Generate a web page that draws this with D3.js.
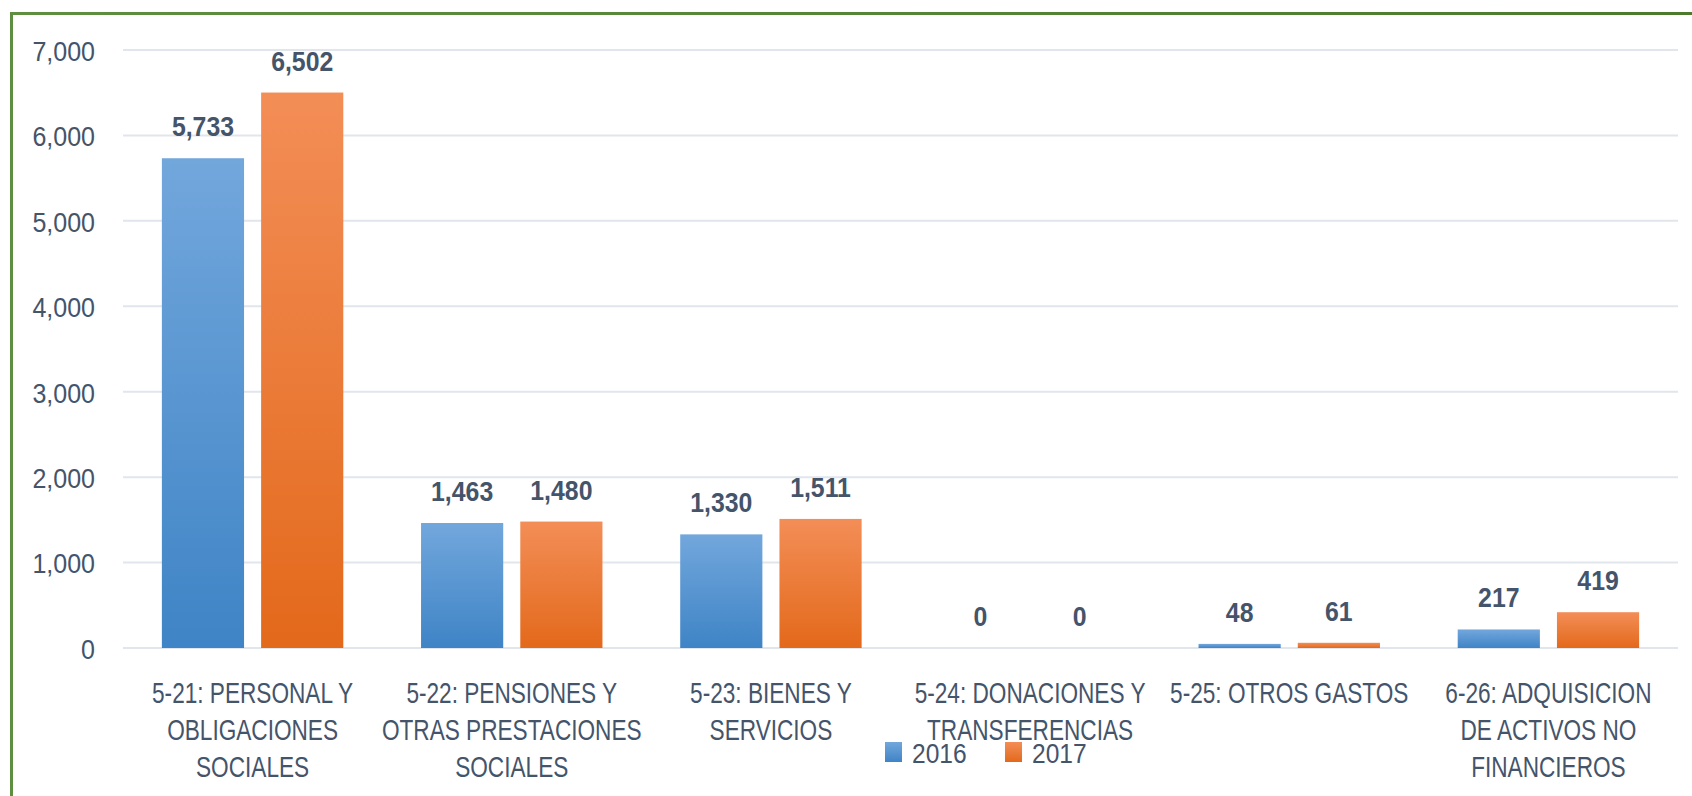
<!DOCTYPE html>
<html>
<head>
<meta charset="utf-8">
<script src="https://cdn.jsdelivr.net/npm/d3@7"></script>
<style>
  html, body { margin: 0; padding: 0; background: #ffffff; }
  svg { display: block; }
  text { font-family: "Liberation Sans", Arial, sans-serif; fill: #44546A; }
</style>
</head>
<body>
<svg id="chart" width="1692" height="796"></svg>
<script>
const categories = [
  "5-21: PERSONAL Y\nOBLIGACIONES\nSOCIALES",
  "5-22: PENSIONES Y\nOTRAS PRESTACIONES\nSOCIALES",
  "5-23: BIENES Y\nSERVICIOS",
  "5-24: DONACIONES Y\nTRANSFERENCIAS",
  "5-25: OTROS GASTOS",
  "6-26: ADQUISICION\nDE ACTIVOS NO\nFINANCIEROS"
];
const seriesNames = ["2016", "2017"];
const values2016 = [5733, 1463, 1330, 0, 48, 217];
const values2017 = [6502, 1480, 1511, 0, 61, 419];
const yTicks = [0, 1000, 2000, 3000, 4000, 5000, 6000, 7000];

const seriesValues = [values2016, values2017];
const svg = d3.select("#chart");
const plot = { left: 123, right: 1678, top: 50, bottom: 648 };

const defs = svg.append("defs");
const gradColors = [["#72A7DC", "#3F84C6"], ["#F38E57", "#E3691B"]];
gradColors.forEach((c, i) => {
  const g = defs.append("linearGradient").attr("id", "grad" + i)
    .attr("x1", 0).attr("y1", 0).attr("x2", 0).attr("y2", 1);
  g.append("stop").attr("offset", "0%").attr("stop-color", c[0]);
  g.append("stop").attr("offset", "100%").attr("stop-color", c[1]);
});
const borderGrad = defs.append("linearGradient").attr("id", "borderGrad")
  .attr("x1", 0).attr("y1", 0).attr("x2", 1).attr("y2", 0);
borderGrad.append("stop").attr("offset", "0%").attr("stop-color", "#5E8F40");
borderGrad.append("stop").attr("offset", "100%").attr("stop-color", "#4B7A2C");

// chart border (extends beyond the viewport on the right and bottom)
svg.append("rect").attr("x", 11.5).attr("y", 13.5).attr("width", 1720).attr("height", 820)
  .attr("fill", "none").attr("stroke", "url(#borderGrad)").attr("stroke-width", 3);

const x0 = d3.scaleBand().domain(d3.range(categories.length))
  .range([plot.left, plot.right]).paddingInner(0.30).paddingOuter(0.15);
const x1 = d3.scaleBand().domain(d3.range(seriesNames.length))
  .range([0, x0.bandwidth()]).paddingInner(0.172);
const y = d3.scaleLinear().domain([0, 7000]).range([plot.bottom, plot.top]);

function place(sel, x, yy, sx) {
  sel.attr("transform", `translate(${x},${yy}) scale(${sx},1)`);
  return sel;
}

// gridlines
svg.append("g").selectAll("line").data(yTicks).join("line")
  .attr("x1", plot.left).attr("x2", plot.right)
  .attr("y1", d => y(d)).attr("y2", d => y(d))
  .attr("stroke", "#E1E5EC").attr("stroke-width", 2);

// y tick labels
const fmt = d3.format(",");
svg.append("g").selectAll("text").data(yTicks).join("text")
  .attr("text-anchor", "end").attr("dy", "0.36em")
  .style("font-size", "27.5px")
  .text(d => fmt(d))
  .each(function(d) { place(d3.select(this), 95, y(d) + 1, 0.91); });

// bars
const groups = svg.append("g").selectAll("g").data(categories).join("g")
  .attr("transform", (d, i) => `translate(${x0(i)},0)`);
seriesNames.forEach((s, si) => {
  groups.append("rect")
    .attr("x", x1(si)).attr("width", x1.bandwidth())
    .attr("y", (d, i) => y(seriesValues[si][i]))
    .attr("height", (d, i) => y(0) - y(seriesValues[si][i]))
    .attr("fill", `url(#grad${si})`);
  groups.append("text")
    .attr("text-anchor", "middle")
    .style("font-size", "27px").style("font-weight", "bold")
    .text((d, i) => fmt(seriesValues[si][i]))
    .each(function(d, i) {
      place(d3.select(this), x1(si) + x1.bandwidth() / 2, y(seriesValues[si][i]) - 22, 0.92);
    });
});

// category labels
categories.forEach((c, i) => {
  const lines = c.split("\n");
  lines.forEach((ln, li) => {
    place(svg.append("text").attr("text-anchor", "middle").style("font-size", "29px").text(ln),
      x0(i) + x0.bandwidth() / 2, 703 + li * 37, 0.78);
  });
});

// legend
const legendX = [885, 1005];
seriesNames.forEach((s, si) => {
  svg.append("rect").attr("x", legendX[si]).attr("y", 742).attr("width", 17).attr("height", 20)
    .attr("fill", `url(#grad${si})`);
  place(svg.append("text").attr("text-anchor", "start").style("font-size", "27px").text(s),
    legendX[si] + 27, 763, 0.91);
});
</script>
</body>
</html>
